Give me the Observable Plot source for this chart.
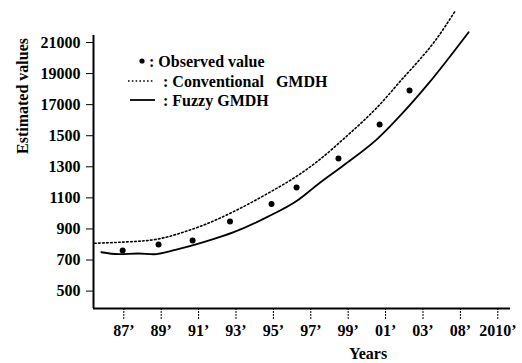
<!DOCTYPE html>
<html><head><meta charset="utf-8">
<script src="https://cdn.jsdelivr.net/npm/d3@7"></script>
<script src="https://cdn.jsdelivr.net/npm/@observablehq/plot@0.6"></script>
<style>
body{margin:0;background:#fff;}
#chart{position:relative;width:522px;height:363px;}
</style></head><body><div id="chart"></div>
<script>
// x positions are tick slots (0 = 87', 10 = 2010'), evenly spaced as in the original
const tickLabels = ["87’","89’","91’","93’","95’","97’","99’","01’","03’","08’","2010’"];
const tickPositions = [0,1,2,3,4,5,6,7,8,9,10];
const yTickValues = [500,700,900,1100,1300,1500,1700,1900,2100];
const yTickLabels = ["500","700","900","1100","1300","1500","17000","19000","21000"];

const observedPos = [-0.03,0.93,1.84,2.84,3.95,4.62,5.74,6.84,7.64];
const observedVal = [761,800,826,948,1060,1167,1353,1572,1791];

const convPos = [-0.78,-0.06,0.84,1.64,2.22,2.94,3.83,4.72,5.21,5.88,6.78,7.49,7.89,8.29,8.87];
const convVal = [808,815,832,883,933,1012,1126,1255,1341,1480,1684,1877,1984,2100,2306];

const fuzzyPos = [-0.60,-0.14,0.39,0.79,1.38,2.22,2.94,3.83,4.64,5.21,5.88,6.78,7.49,8.16,9.22];
const fuzzyVal = [750,738,742,737,765,821,879,976,1083,1191,1310,1480,1655,1840,2166];

const xDomain = [-0.81, 10.34];
const yDomain = [388, 2145];

const observed = observedPos.map((x,i)=>({x, y: observedVal[i]}));
const conv = convPos.map((x,i)=>({x, y: convVal[i]}));
const fuzzy = fuzzyPos.map((x,i)=>({x, y: fuzzyVal[i]}));

const font = "'Liberation Serif', 'Times New Roman', serif";

const plot = Plot.plot({
  width: 522, height: 363,
  marginLeft: 93, marginRight: 12, marginTop: 35, marginBottom: 55,
  style: {fontFamily: font, fontSize: "16px", fontWeight: "bold", color: "#000", background: "#fff", overflow: "visible"},
  x: {domain: xDomain},
  y: {domain: yDomain},
  marks: [
    Plot.axisY(yTickValues, {tickFormat: (d,i)=> yTickLabels[i], tickSize: 7, tickPadding: 6, label: null, fontSize: 16}),
    Plot.axisX(tickPositions, {tickFormat: d => tickLabels[d], tickSize: 12, tickPadding: 4, label: null, strokeDasharray: "2,1", fontSize: 16}),
    Plot.ruleX([xDomain[0]], {strokeWidth: 2}),
    Plot.ruleY([yDomain[0]], {strokeWidth: 2.2}),
    Plot.line(conv, {x:"x", y:"y", strokeWidth:1.6, strokeDasharray:"1.6,2.4", curve:"monotone-x"}),
    Plot.line(fuzzy, {x:"x", y:"y", strokeWidth:1.8, curve:"monotone-x"}),
    Plot.dot(observed, {x:"x", y:"y", r:3, fill:"black", stroke: null}),
    Plot.text(["Estimated values"], {text: d => d, frameAnchor: "left", dx: -71, dy: -18, rotate: -90, fontSize: 16, fontWeight: "bold"}),
    Plot.text(["Years"], {text: d => d, frameAnchor: "bottom", dx: 66, dy: 50, fontSize: 16, fontWeight: "bold"})
  ]
});
document.getElementById("chart").appendChild(plot);

// legend drawn inside the plot area, as in the original
const svg = d3.select(plot);
const lg = svg.append("g").attr("font-family", font).attr("font-size", 16).attr("font-weight", "bold").attr("fill", "#000").attr("text-anchor", "start");
lg.append("circle").attr("cx", 142).attr("cy", 61).attr("r", 2.6).attr("fill", "#000");
lg.append("text").attr("x", 149).attr("y", 61).attr("dy", "0.35em").text(": Observed value");
lg.append("line").attr("x1", 128).attr("x2", 153).attr("y1", 81).attr("y2", 81).attr("stroke", "#000").attr("stroke-width", 1.5).attr("stroke-dasharray", "1.6,2.2");
lg.append("text").attr("x", 163).attr("y", 81).attr("dy", "0.35em").text(": Conventional\u00a0\u00a0\u00a0GMDH");
lg.append("line").attr("x1", 130).attr("x2", 155).attr("y1", 100).attr("y2", 100).attr("stroke", "#000").attr("stroke-width", 1.8);
lg.append("text").attr("x", 163).attr("y", 100).attr("dy", "0.35em").text(": Fuzzy GMDH");
</script></body></html>
